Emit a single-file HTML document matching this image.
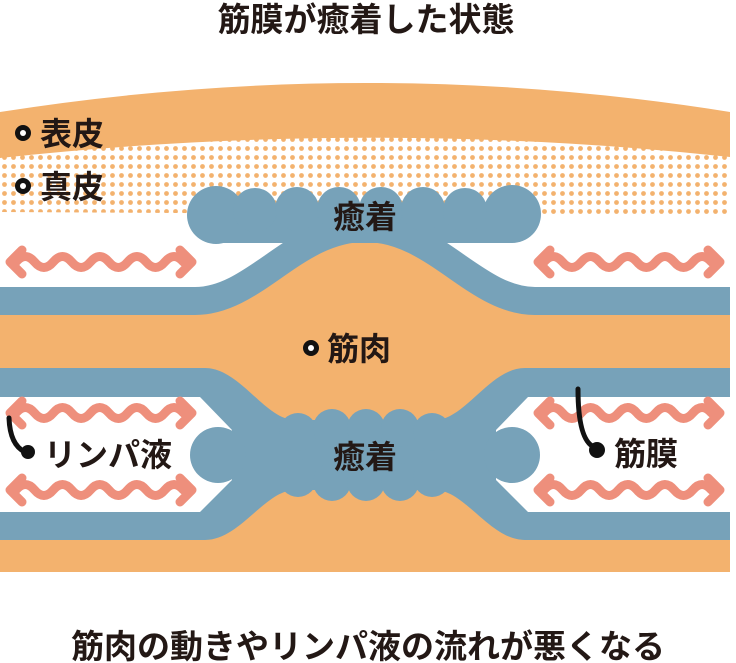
<!DOCTYPE html>
<html><head><meta charset="utf-8"><style>
html,body{margin:0;padding:0;background:#fff;}
svg{display:block;}
text{font-family:"Liberation Sans","Noto Sans CJK JP",sans-serif;fill:#231815;font-weight:bold;}
</style></head><body>
<svg width="736" height="663" viewBox="0 0 736 663" xmlns="http://www.w3.org/2000/svg">
<defs>
<pattern id="dots" x="0" y="0" width="9" height="9" patternUnits="userSpaceOnUse">
<circle cx="4.5" cy="4.5" r="2.4" fill="#F3B26E"/>
</pattern>
</defs>
<text x="366" y="31" font-size="33" text-anchor="middle">筋膜が癒着した状態</text>
<path d="M0,156 Q368,118 730,156 L730,216 L0,212 Z" fill="url(#dots)"/>
<path d="M0,112 Q368,54 730,112 L730,157 Q368,118 0,158 Z" fill="#F3B26E"/>
<path d="M0,301 L195,301 C255,301 295,228 365,228 C435,228 475,301 535,301 L730,301 L730,572 L0,572 Z" fill="#F3B26E"/>
<path d="M0,301 L195,301 C255,301 295,228 365,228 C435,228 475,301 535,301 L730,301" fill="none" stroke="#77A2B9" stroke-width="28"/>
<g fill="#77A2B9">
<circle cx="216" cy="215" r="29"/>
<circle cx="512" cy="214" r="29"/>
<rect x="216" y="205" width="296" height="38"/>
<circle cx="255" cy="210" r="22"/>
<circle cx="297" cy="209" r="22"/>
<circle cx="339" cy="209" r="22"/>
<circle cx="381" cy="209" r="22"/>
<circle cx="423" cy="209" r="22"/>
<circle cx="465" cy="210" r="22"/>
</g>
<text x="365" y="228" font-size="32" text-anchor="middle">癒着</text>
<path d="M0,368 L205,368 C240,368 265,420 295,420 L435,420 C465,420 490,368 525,368 L730,368 L730,540 L525,540 C490,540 465,490 435,490 L295,490 C265,490 240,540 205,540 L0,540 Z" fill="#77A2B9"/>
<path d="M0,397 L200,397 L232,430 L232,480 L200,512 L0,512 Z" fill="#fff"/>
<path d="M730,397 L528,397 L496,430 L496,480 L528,512 L730,512 Z" fill="#fff"/>
<g fill="#77A2B9">
<circle cx="218" cy="455" r="28"/>
<circle cx="512" cy="455" r="28"/>
<circle cx="298" cy="432" r="19"/><circle cx="332" cy="428" r="19"/><circle cx="366" cy="428" r="19"/><circle cx="400" cy="428" r="19"/><circle cx="432" cy="432" r="19"/>
<circle cx="298" cy="478" r="19"/><circle cx="332" cy="482" r="19"/><circle cx="366" cy="482" r="19"/><circle cx="400" cy="482" r="19"/><circle cx="432" cy="478" r="19"/>
</g>
<text x="365" y="468" font-size="32" text-anchor="middle">癒着</text>
<g fill="none" stroke="#EE8F7C" stroke-width="9" stroke-linecap="round" stroke-linejoin="round">
<g id="arr">
<path d="M16,262 q9.3,-11 18.6,0 t18.6,0 t18.6,0 t18.6,0 t18.6,0 t18.6,0 t18.6,0 t18.6,0 t18.6,0"/>
<polyline points="22,250 10,262 22,274"/>
<polyline points="180,250 192,262 180,274"/>
</g>
<use href="#arr" x="528"/>
<use href="#arr" y="151"/>
<use href="#arr" y="228"/>
<use href="#arr" x="528" y="151"/>
<use href="#arr" x="528" y="228"/>
</g>
<g>
<circle cx="23" cy="133" r="8" fill="#111"/><circle cx="23" cy="133" r="3" fill="#fff"/>
<circle cx="23" cy="186" r="8" fill="#111"/><circle cx="23" cy="186" r="3" fill="#fff"/>
<circle cx="311" cy="348" r="8" fill="#111"/><circle cx="311" cy="348" r="3" fill="#fff"/>
</g>
<text x="40" y="145" font-size="32">表皮</text>
<text x="40" y="198" font-size="32">真皮</text>
<text x="327" y="360" font-size="32">筋肉</text>
<path d="M9,418 Q10,445 25,452" fill="none" stroke="#111" stroke-width="5" stroke-linecap="round"/>
<circle cx="28" cy="452" r="7" fill="#111"/>
<text x="44" y="466" font-size="32">リンパ液</text>
<path d="M578,389 Q578,440 594,447" fill="none" stroke="#111" stroke-width="5" stroke-linecap="round"/>
<circle cx="597" cy="450" r="8" fill="#111"/>
<text x="614" y="465" font-size="32">筋膜</text>
<text x="368" y="658" font-size="33" text-anchor="middle">筋肉の動きやリンパ液の流れが悪くなる</text>
</svg>
</body></html>
